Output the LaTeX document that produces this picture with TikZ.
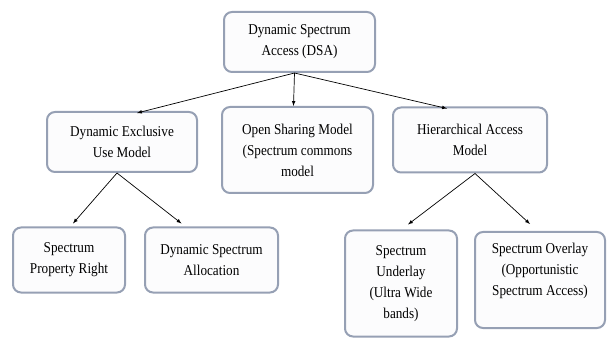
\documentclass[tikz,border=0pt]{standalone}
\usepackage{fontspec}
\setmainfont{Liberation Serif}
\newfontfamily\boxfont{Liberation Serif}[FakeStretch=0.88]
\usepackage{tikz}

\definecolor{boxedge}{RGB}{150,160,180}
\definecolor{boxfill}{RGB}{252,252,253}

\tikzset{
    modelbox/.style={draw=boxedge, line width=2pt, fill=boxfill, rounded corners=8pt,
        align=center, inner sep=2pt,
        font=\boxfont\fontsize{15}{21}\selectfont},
    link/.style={-latex, line width=0.7pt}
}

\begin{document}
\begin{tikzpicture}[x=1pt,y=1pt]
        \useasboundingbox (0,0) rectangle (614,338);
        % top level
        \node[modelbox, minimum width=151pt, minimum height=60pt] (dsa) at (299.5,296) {Dynamic Spectrum\\Access (DSA)};
        % second level
        \node[modelbox, minimum width=150pt, minimum height=60pt] (excl) at (122,196) {Dynamic Exclusive\\Use Model};
        \node[modelbox, minimum width=151pt, minimum height=86pt] (open) at (297.5,188) {Open Sharing Model\\(Spectrum commons\\model};
        \node[modelbox, minimum width=154pt, minimum height=65pt] (hier) at (470,198) {Hierarchical Access\\Model};
        % third level
        \node[modelbox, minimum width=112pt, minimum height=65pt] (prop) at (69,78) {Spectrum\\Property Right};
        \node[modelbox, minimum width=133pt, minimum height=65pt] (alloc) at (211.5,78) {Dynamic Spectrum\\Allocation};
        \node[modelbox, minimum width=112pt, minimum height=106pt] (under) at (401,54.5) {Spectrum\\Underlay\\(Ultra Wide\\bands)};
        \node[modelbox, minimum width=130pt, minimum height=96pt, text depth=22pt] (over) at (540,58) {Spectrum Overlay\\(Opportunistic\\Spectrum Access)};
        % connectors
        \coordinate (dsaroot) at ([xshift=-5pt]dsa.south);
        \coordinate (exclroot) at ([xshift=-5pt]excl.south);
        \coordinate (hierroot) at ([xshift=5pt]hier.south);
        \draw[link] (dsaroot) -- ([xshift=15pt,yshift=-2pt]excl.north);
        \draw[link] (dsaroot) -- ([xshift=-4pt]open.north);
        \draw[link] (dsaroot) -- ([xshift=-23pt,yshift=-2pt]hier.north);
        \draw[link] (exclroot) -- ([xshift=4pt,yshift=3pt]prop.north);
        \draw[link] (exclroot) -- ([xshift=-30pt,yshift=3pt]alloc.north);
        \draw[link] (hierroot) -- ([xshift=7pt,yshift=5pt]under.north);
        \draw[link] (hierroot) -- ([xshift=-10pt,yshift=7pt]over.north);
    \end{tikzpicture}
\end{document}
